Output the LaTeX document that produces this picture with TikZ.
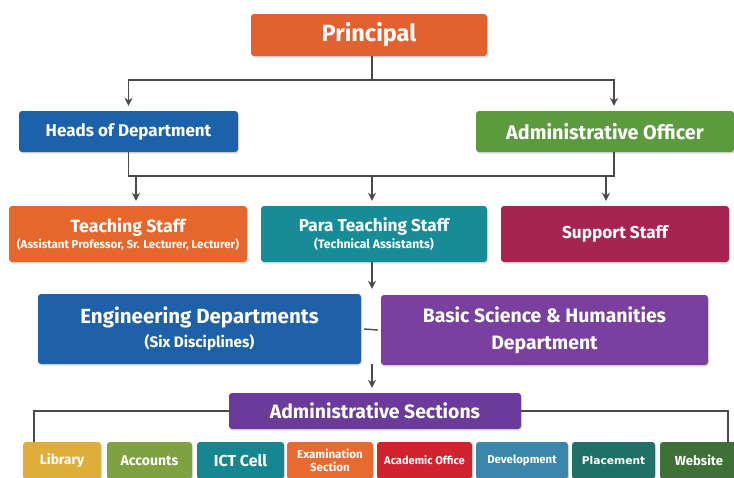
\documentclass[tikz,border=0pt]{standalone}
\usepackage{fontspec}
\setmainfont{Fira Sans}
\newfontfamily\placefont{DejaVu Sans}
\usetikzlibrary{positioning, arrows.meta, shadows}

\definecolor{linegray}{HTML}{4A4A4A}
\definecolor{cPrincipal}{HTML}{E2612F}
\definecolor{cHod}{HTML}{1B62AA}
\definecolor{cAo}{HTML}{5C9A3E}
\definecolor{cTeach}{HTML}{E5672E}
\definecolor{cPara}{HTML}{178C97}
\definecolor{cSupport}{HTML}{A82450}
\definecolor{cEng}{HTML}{1E61A9}
\definecolor{cBsh}{HTML}{7A40A0}
\definecolor{cAdsec}{HTML}{6B3B9C}
\definecolor{cLib}{HTML}{DFAE3A}
\definecolor{cAcc}{HTML}{7EA241}
\definecolor{cIct}{HTML}{168690}
\definecolor{cExam}{HTML}{E96A30}
\definecolor{cAcad}{HTML}{D1222F}
\definecolor{cDev}{HTML}{3B86AB}
\definecolor{cPlace}{HTML}{1F7067}
\definecolor{cWeb}{HTML}{3E7037}

\tikzset{
  box/.style={rectangle, rounded corners=3pt, text=white, font=\bfseries,
    align=center, inner sep=0pt,
    drop shadow={shadow xshift=1pt, shadow yshift=-1.5pt, opacity=0.25}},
  link/.style={draw=linegray, line width=1.4pt},
  arr/.style={link, -{Stealth[length=8pt,width=8pt]}, shorten >=5pt},
  fsz/.style={font=\bfseries\fontsize{#1}{#1}\selectfont},
}

\begin{document}
\begin{tikzpicture}[x=1pt, y=-1pt]
  \useasboundingbox (0,0) rectangle (734,477);

  % top
  \node[box, fill=cPrincipal, minimum width=236, minimum height=42, fsz=23.5]
    (principal) at (369,35) {Principal};

  % second level
  \node[box, fill=cHod, minimum width=219, minimum height=41, fsz=17]
    (hod) at (128.5,131.5) {Heads of Department};
  \node[box, fill=cAo, minimum width=258, minimum height=41, fsz=19.8]
    (ao) at (605,131.5) {Administrative Officer};

  % staff
  \node[box, fill=cTeach, minimum width=238, minimum height=56] (teach) at (128,234)
    {{\fontsize{17.7}{19}\selectfont Teaching Staff}\\[1pt]
     {\fontsize{11.5}{12}\selectfont (Assistant Professor, Sr. Lecturer, Lecturer)}};
  \node[box, fill=cPara, minimum width=226, minimum height=56] (para) at (374,234)
    {{\fontsize{17.2}{19}\selectfont Para Teaching Staff}\\[1pt]
     {\fontsize{12.2}{12}\selectfont (Technical Assistants)}};
  \node[box, fill=cSupport, minimum width=228, minimum height=56, fsz=17.2]
    (support) at (615,234) {Support Staff};

  % departments
  \node[box, fill=cEng, minimum width=323, minimum height=70] (eng) at (199.5,329)
    {{\fontsize{20.5}{22}\selectfont Engineering Departments}\\[5pt]
     {\fontsize{15.2}{16}\selectfont (Six Disciplines)}};
  \node[box, fill=cBsh, minimum width=327, minimum height=70,
    font=\bfseries\fontsize{19.4}{27}\selectfont] (bsh) at (544.5,330)
    {Basic Science \& Humanities\\Department};

  % sections
  \node[box, fill=cAdsec, minimum width=292, minimum height=36, fsz=19.4]
    (adsec) at (375,411) {Administrative Sections};

  \node[box, fill=cLib, minimum width=78, minimum height=37, fsz=13.7] (lib) at (62,460.5) {Library};
  \node[box, fill=cAcc, minimum width=85, minimum height=37, fsz=14] (acc) at (149.5,460.5) {Accounts};
  \node[box, fill=cIct, minimum width=87, minimum height=37, fsz=15.9] (ict) at (240.5,460.5) {ICT Cell};
  \node[box, fill=cExam, minimum width=86, minimum height=37,
    font=\bfseries\fontsize{11.6}{13}\selectfont] (exam) at (330,460.5) {Examination\\Section};
  \node[box, fill=cAcad, minimum width=95, minimum height=37, fsz=11.1] (acad) at (424.5,460.5) {Academic Office};
  \node[box, fill=cDev, minimum width=92, minimum height=37, fsz=11.4] (dev) at (522,460.5) {Development};
  \node[box, fill=cPlace, minimum width=83, minimum height=37,
    font=\placefont\bfseries\fontsize{10.7}{12}\selectfont] (place) at (613.5,460.5) {Placement};
  \node[box, fill=cWeb, minimum width=78, minimum height=37, fsz=13.1] (web) at (699,460.5) {Website};

  % connectors
  \coordinate (bus1) at (372,80);
  \coordinate (bus2) at (372,176);
  \draw[link] (principal.south -| bus1) -- (bus1);
  \draw[arr] (bus1) -| (hod.north);
  \draw[arr] (bus1) -| ([xshift=9pt]ao.north);
  \draw[link] (hod.south) |- (bus2);
  \draw[link] ([xshift=9pt]ao.south) |- (bus2);
  \draw[arr] (bus2 -| teach.north) ++(8,0) -- ([xshift=8pt]teach.north);
  \draw[arr] (bus2) -- (bus2 |- para.north);
  \draw[arr] (bus2 -| support.north) ++(-9,0) -- ([xshift=-9pt]support.north);
  \draw[arr] (bus2 |- para.south) -- (bus2 |- eng.north);
  \draw[link] ([xshift=3pt]eng.east) -- ([xshift=-3pt]bsh.west);
  \draw[arr] (bus2 |- eng.south) -- (bus2 |- adsec.north);
  \draw[link] (adsec.west) -| ([xshift=-28pt]lib.north);
  \draw[link] (adsec.east) -| ([xshift=29pt]web.north);
\end{tikzpicture}
\end{document}
